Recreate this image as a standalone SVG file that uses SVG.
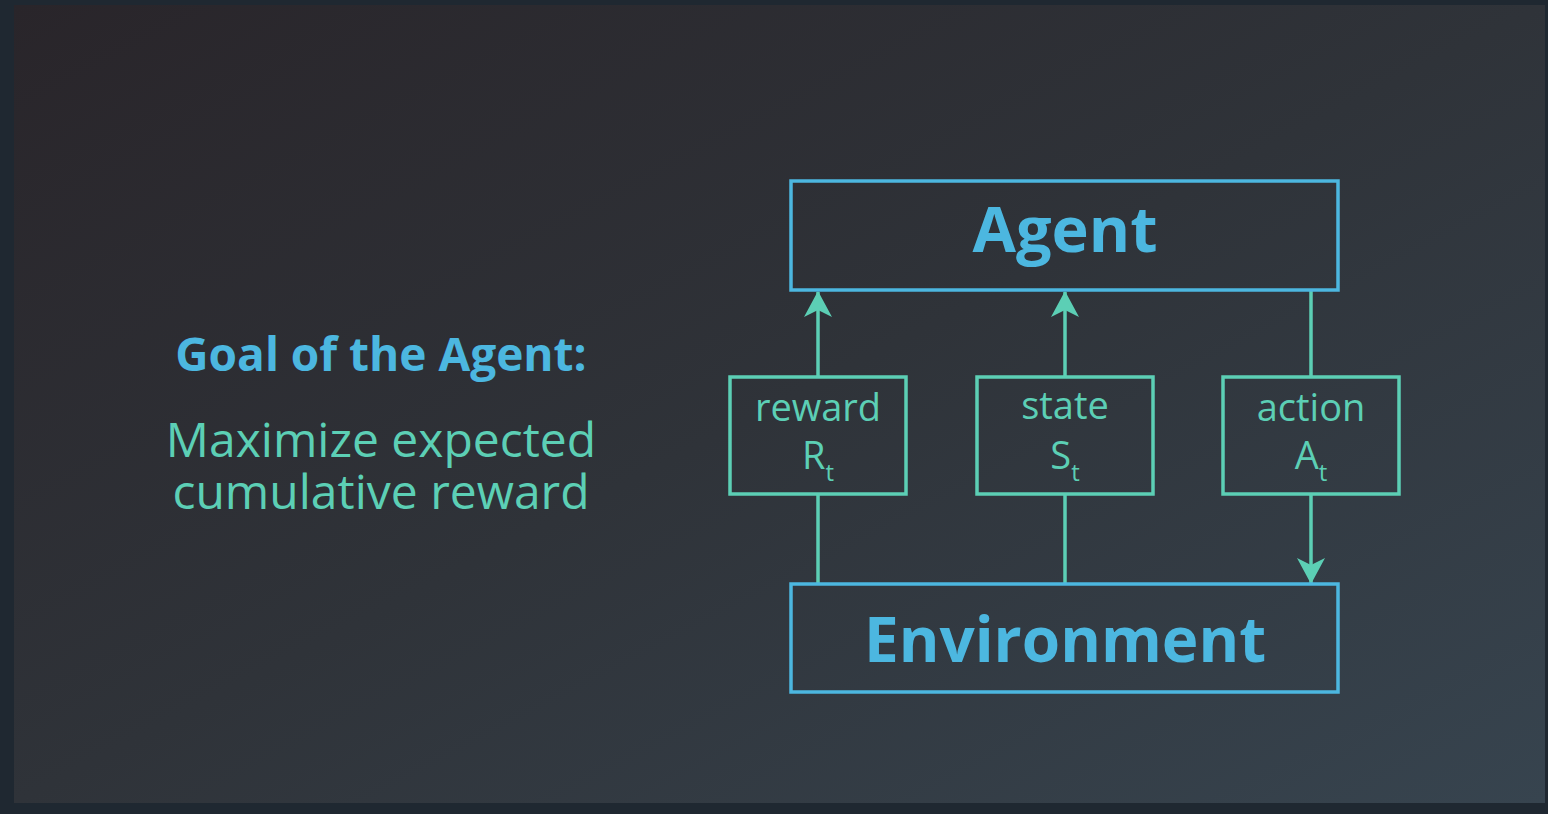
<svg xmlns="http://www.w3.org/2000/svg" width="1548" height="814" viewBox="0 0 1548 814">
<defs>
<linearGradient id="bg" x1="0" y1="0" x2="1" y2="1">
<stop offset="0" stop-color="#29252a"/>
<stop offset="0.5" stop-color="#2f3339"/>
<stop offset="1" stop-color="#37444f"/>
</linearGradient>
<marker id="ah" viewBox="0 0 26 28" refX="25" refY="14" markerWidth="26" markerHeight="28" markerUnits="userSpaceOnUse" orient="auto">
<path d="M0,0 L26,14 L0,28 L7,14 Z" fill="#5ccfb5"/>
</marker>
<style>
.big{fill:none;stroke:#4cb7e0;stroke-width:3.5}
.small{fill:none;stroke:#5ccfb5;stroke-width:3.5}
.conn{stroke:#5ccfb5;stroke-width:3.5;fill:none}
.title{font-family:"Open Sans","Noto Sans",sans-serif;font-weight:700;fill:#4cb7e0;text-anchor:middle}
.lbl{font-family:"Open Sans","Noto Sans",sans-serif;fill:#5ccfb5;text-anchor:middle}
</style>
</defs>
<rect width="1548" height="814" fill="#1f2831"/>
<rect x="14" y="5" width="1531" height="798" fill="url(#bg)"/>
<g id="goal">
<text class="title" x="381" y="371" font-size="46">Goal of the Agent:</text>
<text class="lbl" x="381" y="457" font-size="48">Maximize expected</text>
<text class="lbl" x="381" y="509" font-size="48">cumulative reward</text>
</g>
<g id="connectors">
<line class="conn" x1="818" y1="377" x2="818" y2="292" marker-end="url(#ah)"/>
<line class="conn" x1="1065" y1="377" x2="1065" y2="292" marker-end="url(#ah)"/>
<line class="conn" x1="1311" y1="290" x2="1311" y2="377"/>
<line class="conn" x1="818" y1="494" x2="818" y2="584"/>
<line class="conn" x1="1065" y1="494" x2="1065" y2="584"/>
<line class="conn" x1="1311" y1="494" x2="1311" y2="583" marker-end="url(#ah)"/>
</g>
<g id="agent">
<rect class="big" x="791" y="181" width="547" height="109"/>
<text class="title" x="1065" y="252" font-size="63">Agent</text>
</g>
<g id="environment">
<rect class="big" x="791" y="584" width="547" height="108"/>
<text class="title" x="1065" y="662" font-size="62">Environment</text>
</g>
<g id="reward">
<rect class="small" x="730" y="377" width="176" height="117"/>
<text class="lbl" x="818" y="421" font-size="38">reward</text>
<text class="lbl" x="818" y="469" font-size="38">R<tspan font-size="24" dy="12">t</tspan></text>
</g>
<g id="state">
<rect class="small" x="977" y="377" width="176" height="117"/>
<text class="lbl" x="1065" y="419" font-size="38">state</text>
<text class="lbl" x="1065" y="469" font-size="38">S<tspan font-size="24" dy="12">t</tspan></text>
</g>
<g id="action">
<rect class="small" x="1223" y="377" width="176" height="117"/>
<text class="lbl" x="1311" y="421" font-size="38">action</text>
<text class="lbl" x="1311" y="469" font-size="38">A<tspan font-size="24" dy="12">t</tspan></text>
</g>
</svg>
